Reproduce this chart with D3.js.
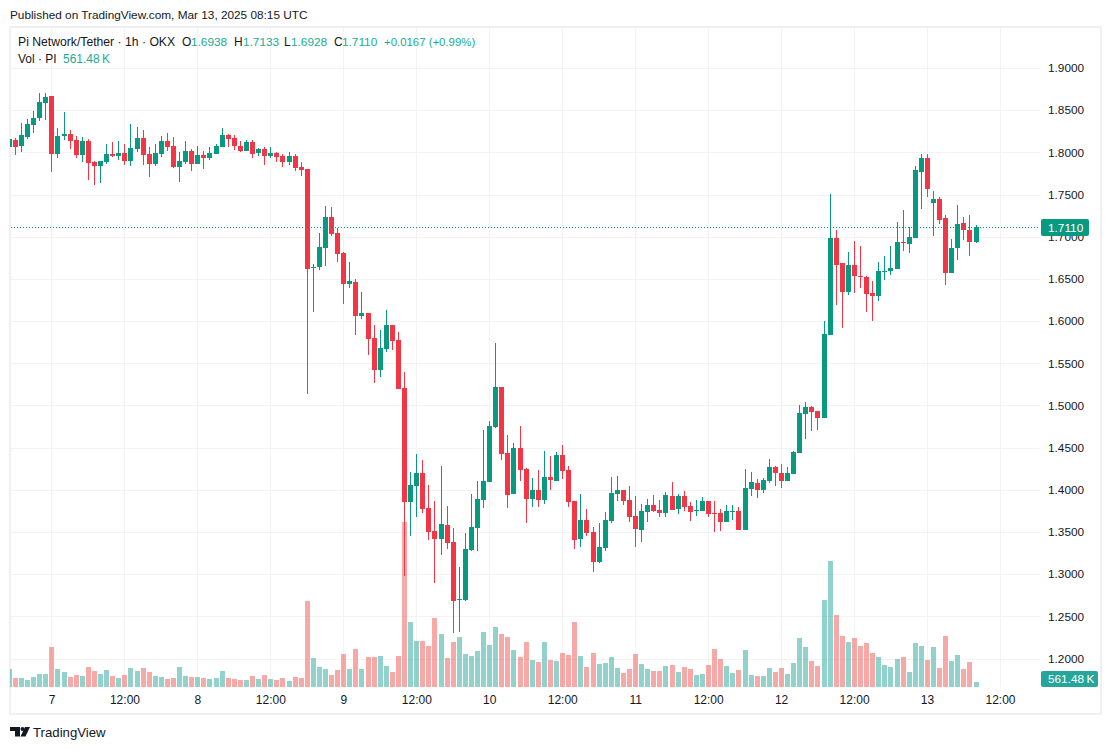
<!DOCTYPE html>
<html>
<head>
<meta charset="utf-8">
<title>Pi Network/Tether</title>
<script src="https://cdn.jsdelivr.net/npm/d3@7"></script>
<style>
  html, body { margin: 0; padding: 0; background: #fff; }
  svg { display: block; }
  text { font-family: "Liberation Sans", "Noto Sans", sans-serif; }
</style>
</head>
<body>
<div id="chart"></div>
<script>
// Hourly candles, first one is Mar 6 17:00 UTC.
var firstHour = Date.UTC(2025, 2, 6, 17);

var opens = [
  1.8063, 1.8146, 1.8075, 1.8182, 1.8324, 1.8407, 1.8585, 1.8668, 1.7980, 1.8194, 1.8217, 1.8146, 1.7969, 1.8134, 1.7886, 1.7838,
  1.7886, 1.7980, 1.7957, 1.7992, 1.7897, 1.8040, 1.8170, 1.7980, 1.7862, 1.7980, 1.8134, 1.8075, 1.7826, 1.7886, 1.8016, 1.7862,
  1.7969, 1.7933, 1.7980, 1.8063, 1.8206, 1.8170, 1.8075, 1.8016, 1.8123, 1.7992, 1.8040, 1.7957, 1.7992, 1.7957, 1.7886, 1.7957,
  1.7826, 1.7802, 1.6629, 1.6641, 1.6866, 1.7234, 1.7044, 1.6807, 1.6440, 1.6463, 1.6060, 1.6096, 1.5800, 1.5421, 1.5669, 1.5954,
  1.5776, 1.5207, 1.3856, 1.4046, 1.4200, 1.3785, 1.3513, 1.3418, 1.3584, 1.3382, 1.2695, 1.2695, 1.3287, 1.3548, 1.3880, 1.4093,
  1.4745, 1.5219, 1.4437, 1.3951, 1.4496, 1.4247, 1.3892, 1.4000, 1.3880, 1.4153, 1.4105, 1.4413, 1.4235, 1.3868, 1.3417, 1.3642,
  1.3500, 1.3144, 1.3310, 1.3630, 1.3950, 1.3998, 1.3879, 1.3689, 1.3523, 1.3737, 1.3820, 1.3760, 1.3725, 1.3926, 1.3772, 1.3926,
  1.3808, 1.3749, 1.3749, 1.3867, 1.3725, 1.3725, 1.3618, 1.3741, 1.3749, 1.3523, 1.4009, 1.4080, 1.3998, 1.4104, 1.4270, 1.4199,
  1.4104, 1.4187, 1.4436, 1.4899, 1.4982, 1.4935, 1.4852, 1.5835, 1.6985, 1.6688, 1.6345, 1.6665, 1.6534, 1.6523, 1.6333, 1.6297,
  1.6582, 1.6594, 1.6617, 1.6937, 1.6914, 1.6985, 1.7767, 1.7933, 1.7399, 1.7447, 1.7222, 1.6570, 1.6866, 1.7162, 1.7080, 1.6938
];
var highs = [
  1.8158, 1.8170, 1.8348, 1.8395, 1.8490, 1.8703, 1.8703, 1.8668, 1.8288, 1.8478, 1.8265, 1.8194, 1.8182, 1.8158, 1.7897, 1.7897,
  1.8099, 1.8123, 1.8134, 1.8099, 1.8336, 1.8300, 1.8265, 1.8063, 1.8099, 1.8194, 1.8229, 1.8182, 1.8004, 1.8134, 1.8040, 1.8075,
  1.8016, 1.8063, 1.8099, 1.8288, 1.8217, 1.8206, 1.8134, 1.8146, 1.8146, 1.8051, 1.8063, 1.8063, 1.8004, 1.7980, 1.8004, 1.7980,
  1.7886, 1.7802, 1.6677, 1.7044, 1.7364, 1.7352, 1.7103, 1.6819, 1.6700, 1.6499, 1.6345, 1.6096, 1.5954, 1.5894, 1.6132, 1.5954,
  1.5871, 1.5397, 1.4212, 1.4425, 1.4354, 1.4058, 1.3868, 1.4283, 1.3809, 1.3548, 1.3086, 1.3489, 1.3951, 1.4105, 1.4710, 1.4816,
  1.5740, 1.5219, 1.4650, 1.4555, 1.4757, 1.4259, 1.4141, 1.4235, 1.4461, 1.4401, 1.4449, 1.4532, 1.4283, 1.3868, 1.3950, 1.3772,
  1.3559, 1.3606, 1.3737, 1.4152, 1.4163, 1.3998, 1.4045, 1.3926, 1.3832, 1.3891, 1.3938, 1.3879, 1.3974, 1.4092, 1.3950, 1.3986,
  1.3855, 1.3879, 1.3915, 1.3867, 1.3867, 1.3772, 1.3820, 1.3820, 1.3796, 1.4246, 1.4211, 1.4128, 1.4140, 1.4365, 1.4282, 1.4306,
  1.4270, 1.4460, 1.5006, 1.5041, 1.4994, 1.4935, 1.6001, 1.7506, 1.7080, 1.6688, 1.6819, 1.6949, 1.6890, 1.6534, 1.6475, 1.6700,
  1.6771, 1.6890, 1.7174, 1.7316, 1.7115, 1.7838, 1.7980, 1.7980, 1.7542, 1.7471, 1.7257, 1.6973, 1.7376, 1.7234, 1.7257, 1.7133
];
var lows = [
  1.8063, 1.7969, 1.8004, 1.8158, 1.8229, 1.8371, 1.8383, 1.7767, 1.7933, 1.8146, 1.8040, 1.7933, 1.7886, 1.7672, 1.7613, 1.7637,
  1.7862, 1.7945, 1.7909, 1.7850, 1.7838, 1.8004, 1.7850, 1.7708, 1.7838, 1.7945, 1.8016, 1.7815, 1.7649, 1.7862, 1.7779, 1.7862,
  1.7803, 1.7909, 1.7980, 1.8063, 1.8063, 1.8028, 1.8004, 1.8016, 1.7933, 1.7957, 1.7850, 1.7933, 1.7886, 1.7826, 1.7850, 1.7779,
  1.7720, 1.5136, 1.6108, 1.6605, 1.6653, 1.7008, 1.6700, 1.6203, 1.6392, 1.5835, 1.6025, 1.5598, 1.5266, 1.5338, 1.5634, 1.5657,
  1.5195, 1.2979, 1.3453, 1.3678, 1.3726, 1.3406, 1.2896, 1.3228, 1.3299, 1.2304, 1.2316, 1.2683, 1.3276, 1.3276, 1.3785, 1.4093,
  1.4733, 1.4354, 1.3785, 1.3951, 1.4105, 1.3608, 1.3797, 1.3797, 1.3833, 1.4000, 1.4105, 1.4129, 1.3797, 1.3299, 1.3322, 1.3452,
  1.3026, 1.3132, 1.3275, 1.3606, 1.3867, 1.3820, 1.3618, 1.3322, 1.3381, 1.3618, 1.3737, 1.3678, 1.3678, 1.3760, 1.3713, 1.3749,
  1.3630, 1.3689, 1.3749, 1.3678, 1.3500, 1.3512, 1.3618, 1.3642, 1.3523, 1.3523, 1.3926, 1.3903, 1.3962, 1.4080, 1.4045, 1.4021,
  1.4104, 1.4187, 1.4436, 1.4603, 1.4698, 1.4710, 1.4852, 1.5835, 1.6191, 1.5918, 1.6309, 1.6333, 1.6392, 1.6108, 1.6001, 1.6238,
  1.6487, 1.6546, 1.6617, 1.6831, 1.6807, 1.6985, 1.7328, 1.7471, 1.7008, 1.7151, 1.6428, 1.6570, 1.6724, 1.6961, 1.6771, 1.6928
];
var closes = [
  1.8158, 1.8063, 1.8206, 1.8336, 1.8407, 1.8597, 1.8656, 1.7980, 1.8194, 1.8217, 1.8134, 1.7969, 1.8134, 1.7874, 1.7838, 1.7897,
  1.7980, 1.7957, 1.7992, 1.7897, 1.8051, 1.8170, 1.7969, 1.7862, 1.7992, 1.8134, 1.8063, 1.7826, 1.7897, 1.8016, 1.7862, 1.7969,
  1.7933, 1.7992, 1.8075, 1.8206, 1.8158, 1.8075, 1.8016, 1.8123, 1.7980, 1.8040, 1.7957, 1.7992, 1.7945, 1.7886, 1.7957, 1.7815,
  1.7791, 1.6617, 1.6641, 1.6878, 1.7234, 1.7032, 1.6795, 1.6440, 1.6475, 1.6060, 1.6096, 1.5788, 1.5421, 1.5681, 1.5954, 1.5764,
  1.5195, 1.3856, 1.4058, 1.4200, 1.3773, 1.3501, 1.3418, 1.3596, 1.3370, 1.2683, 1.2707, 1.3299, 1.3560, 1.3892, 1.4105, 1.4757,
  1.5219, 1.4425, 1.3939, 1.4496, 1.4235, 1.3892, 1.4000, 1.3880, 1.4153, 1.4117, 1.4413, 1.4224, 1.3856, 1.3406, 1.3642, 1.3488,
  1.3144, 1.3322, 1.3642, 1.3962, 1.3998, 1.3867, 1.3678, 1.3535, 1.3749, 1.3820, 1.3749, 1.3725, 1.3938, 1.3760, 1.3926, 1.3796,
  1.3737, 1.3760, 1.3867, 1.3713, 1.3717, 1.3618, 1.3749, 1.3749, 1.3523, 1.4021, 1.4092, 1.3998, 1.4116, 1.4270, 1.4199, 1.4104,
  1.4199, 1.4448, 1.4911, 1.4982, 1.4923, 1.4852, 1.5847, 1.6985, 1.6665, 1.6345, 1.6665, 1.6534, 1.6523, 1.6321, 1.6297, 1.6594,
  1.6594, 1.6629, 1.6937, 1.6925, 1.6997, 1.7790, 1.7933, 1.7565, 1.7447, 1.7198, 1.6570, 1.6866, 1.7151, 1.7080, 1.6937, 1.7110
];
// Volume in thousands of PI.
var volumes = [
  2021, 1011, 1011, 786, 1123, 1460, 1460, 4492, 2021, 1684, 1123, 1347, 1235, 2246, 1797, 1460,
  1909, 1235, 1011, 1347, 2134, 1797, 2134, 1684, 1235, 1123, 898, 1011, 2246, 1235, 1123, 1123,
  1011, 898, 1011, 1797, 1011, 898, 786, 786, 1235, 898, 1347, 898, 786, 1011, 674, 1123,
  1011, 9657, 3256, 2246, 2021, 1347, 1909, 3706, 2021, 4267, 2021, 3369, 3369, 3481, 2358, 1684,
  3481, 18528, 7299, 5165, 5165, 4604, 7748, 5951, 3256, 5053, 5615, 3706, 3481, 4042, 6176, 4716,
  6737, 5951, 5615, 4155, 3369, 5053, 3032, 2807, 5053, 3032, 2920, 3818, 3593, 7299, 3481, 2246,
  3818, 2583, 2695, 3369, 2134, 1572, 2021, 3706, 2583, 2021, 1797, 1797, 2358, 2470, 1684, 2246,
  2021, 1347, 1460, 2470, 4267, 3144, 2358, 1572, 1909, 4155, 1347, 1235, 1235, 2134, 1684, 2134,
  1460, 2695, 5502, 4492, 2920, 2358, 9769, 14149, 8085, 5727, 5053, 5502, 4604, 4941, 3818, 3369,
  2470, 2246, 3144, 3369, 1684, 4941, 4604, 3032, 4492, 2134, 5727, 2920, 3593, 2021, 2807, 561
];

var priceTicks = [1.2, 1.25, 1.3, 1.35, 1.4, 1.45, 1.5, 1.55, 1.6, 1.65, 1.7, 1.75, 1.8, 1.85, 1.9];
var timeTicks = [
  Date.UTC(2025, 2, 7, 0), Date.UTC(2025, 2, 7, 12), Date.UTC(2025, 2, 8, 0), Date.UTC(2025, 2, 8, 12),
  Date.UTC(2025, 2, 9, 0), Date.UTC(2025, 2, 9, 12), Date.UTC(2025, 2, 10, 0), Date.UTC(2025, 2, 10, 12),
  Date.UTC(2025, 2, 11, 0), Date.UTC(2025, 2, 11, 12), Date.UTC(2025, 2, 12, 0), Date.UTC(2025, 2, 12, 12),
  Date.UTC(2025, 2, 13, 0), Date.UTC(2025, 2, 13, 12)
];
var timeLabels = ['7', '12:00', '8', '12:00', '9', '12:00', '10', '12:00', '11', '12:00', '12', '12:00', '13', '12:00'];

var green = '#089981',
  red = '#F23645',
  volGreen = '#26a69a',
  volRed = '#ef5350',
  gridColor = '#f3f3f4',
  frameColor = '#f0f0f1',
  textColor = '#131722';

var width = 1112,
  height = 750,
  paneLeft = 10,
  paneRight = 1040,
  paneTop = 28,
  paneBottom = 687;

var svg = d3.select('#chart')
  .append('svg')
  .attr('width', width)
  .attr('height', height);

var x = d3.scaleUtc()
  .domain([timeTicks[0], timeTicks[13]])
  .range([51.5, 1000]);
var y = d3.scaleLinear()
  .domain([1.2, 1.9])
  .range([658.5, 68]);
var yVol = d3.scaleLinear()
  .domain([0, 112.3])
  .range([687, 686]);

svg.append('defs')
  .append('clipPath')
  .attr('id', 'pane')
  .append('rect')
  .attr('x', paneLeft)
  .attr('y', paneTop)
  .attr('width', paneRight - paneLeft)
  .attr('height', paneBottom - paneTop);

// Frame.
svg.append('rect')
  .attr('x', 10)
  .attr('y', 27)
  .attr('width', 1091)
  .attr('height', 687)
  .attr('fill', 'none')
  .attr('stroke', frameColor)
  .attr('stroke-width', 2);

// Grid.
var grid = svg.append('g');
grid.selectAll('.h')
  .data(priceTicks)
  .join('line')
  .attr('x1', paneLeft + 1)
  .attr('x2', paneRight)
  .attr('y1', function (d) { return Math.round(y(d)) + 0.5; })
  .attr('y2', function (d) { return Math.round(y(d)) + 0.5; })
  .attr('stroke', gridColor);
grid.selectAll('.v')
  .data(timeTicks)
  .join('line')
  .attr('x1', function (d) { return Math.floor(x(d)) + 0.5; })
  .attr('x2', function (d) { return Math.floor(x(d)) + 0.5; })
  .attr('y1', paneTop)
  .attr('y2', paneBottom)
  .attr('stroke', gridColor);

var candles = closes.map(function (c, i) {
  return {
    t: firstHour + i * 3600e3,
    o: opens[i],
    h: highs[i],
    l: lows[i],
    c: c,
    v: volumes[i],
    up: c >= opens[i]
  };
});

// Candles sit on whole pixels like the original canvas.
function snap(d) {
  return Math.floor(x(d.t) + 0.4);
}

var plot = svg.append('g').attr('clip-path', 'url(#pane)');

// Volume sits under the candles.
plot.append('g').selectAll('rect')
  .data(candles)
  .join('rect')
  .attr('x', function (d) { return snap(d) - 2; })
  .attr('width', 5)
  .attr('y', function (d) { return Math.round(yVol(d.v)); })
  .attr('height', function (d) { return yVol(0) - Math.round(yVol(d.v)); })
  .attr('fill', function (d) { return d.up ? volGreen : volRed; })
  .attr('fill-opacity', 0.5);

// Wicks.
plot.append('g').selectAll('rect')
  .data(candles)
  .join('rect')
  .attr('x', snap)
  .attr('width', 1)
  .attr('y', function (d) { return Math.round(y(d.h)); })
  .attr('height', function (d) { return Math.round(y(d.l)) - Math.round(y(d.h)); })
  .attr('fill', function (d) { return d.up ? green : red; });

// Bodies.
plot.append('g').selectAll('rect')
  .data(candles)
  .join('rect')
  .attr('x', function (d) { return snap(d) - 2; })
  .attr('width', 5)
  .attr('y', function (d) { return Math.round(y(Math.max(d.o, d.c))); })
  .attr('height', function (d) { return Math.max(1, Math.round(Math.abs(y(d.o) - y(d.c)))); })
  .attr('fill', function (d) { return d.up ? green : red; });

// Last price line.
var last = candles[candles.length - 1];
svg.append('line')
  .attr('x1', paneLeft + 1)
  .attr('x2', paneRight)
  .attr('y1', Math.round(y(last.c)) + 0.5)
  .attr('y2', Math.round(y(last.c)) + 0.5)
  .attr('stroke', green)
  .attr('stroke-dasharray', '1 2');

// Axes.
var priceAxis = d3.axisRight(y)
  .tickValues(priceTicks)
  .tickFormat(d3.format('.4f'))
  .tickSize(0)
  .tickPadding(0);
var priceG = svg.append('g')
  .attr('transform', 'translate(1048,0)')
  .call(priceAxis);
priceG.select('.domain').remove();
priceG.selectAll('text')
  .attr('font-size', 11.8)
  .attr('fill', textColor);

var timeAxis = d3.axisBottom(x)
  .tickValues(timeTicks)
  .tickFormat(function (d, i) { return timeLabels[i]; })
  .tickSize(0)
  .tickPadding(0);
var timeG = svg.append('g')
  .attr('transform', 'translate(0,695)')
  .call(timeAxis);
timeG.select('.domain').remove();
timeG.selectAll('text')
  .attr('font-size', 12)
  .attr('fill', textColor);

// Value tags on the axis.
function tag(x0, y0, w, h, color, label) {
  svg.append('rect')
    .attr('x', x0)
    .attr('y', y0)
    .attr('width', w)
    .attr('height', h)
    .attr('rx', 2)
    .attr('fill', color);
  svg.append('text')
    .attr('x', x0 + 7)
    .attr('y', y0 + h / 2 + 4)
    .attr('font-size', 11.8)
    .attr('fill', '#fff')
    .text(label);
}
tag(1041, 219, 48, 17, green, d3.format('.4f')(last.c));
tag(1041, 671, 57, 16, volGreen, '561.48\u2009K');

// Header.
function label(px, py, color, txt, size) {
  svg.append('text')
    .attr('x', px)
    .attr('y', py)
    .attr('font-size', size || 12)
    .attr('fill', color)
    .text(txt);
}
var tvGreen = '#22ab94';
label(10, 19, textColor, 'Published on TradingView.com, Mar 13, 2025 08:15 UTC', 11.8);
label(18, 46, textColor, 'Pi Network/Tether · 1h · OKX', 12.2);
label(182, 46, textColor, 'O');
label(191, 46, tvGreen, '1.6938', 11.8);
label(234, 46, textColor, 'H');
label(243, 46, tvGreen, '1.7133', 11.8);
label(284, 46, textColor, 'L');
label(291, 46, tvGreen, '1.6928', 11.8);
label(334, 46, textColor, 'C');
label(342, 46, tvGreen, '1.7110', 11.8);
label(384, 46, tvGreen, '+0.0167 (+0.99%)', 11.4);
label(18, 63, textColor, 'Vol · PI');
label(63, 63, tvGreen, '561.48\u2009K');

// Footer logo.
var logo = svg.append('g').attr('fill', textColor);
logo.append('path').attr('d', 'M10,727 H20 V736.5 H15 V731 H10 Z');
logo.append('circle').attr('cx', 22.5).attr('cy', 729).attr('r', 2);
logo.append('path').attr('d', 'M25,727 H30 L25.5,736.5 H20.5 Z');
svg.append('text')
  .attr('x', 33)
  .attr('y', 737)
  .attr('font-size', 13.2)
  .attr('fill', textColor)
  .text('TradingView');
</script>
</body>
</html>
